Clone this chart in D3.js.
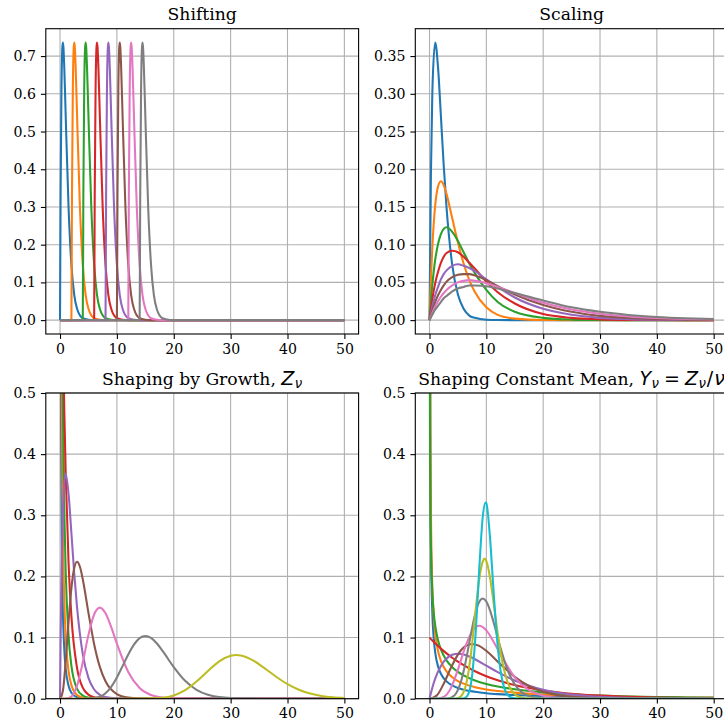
<!DOCTYPE html>
<html>
<head>
<meta charset="utf-8">
<script src="https://cdn.jsdelivr.net/npm/d3@7"></script>
<style>
  body { margin: 0; background: #fff; }
  svg { display: block; }
</style>
</head>
<body>
<div id="chart"></div>
<script>
// tick labels
const xTicks = [0, 10, 20, 30, 40, 50];
const shiftYTicks = [0, 0.1, 0.2, 0.3, 0.4, 0.5, 0.6, 0.7];
const scaleYTicks = [0, 0.05, 0.1, 0.15, 0.2, 0.25, 0.3, 0.35];
const shapeYTicks = [0, 0.1, 0.2, 0.3, 0.4, 0.5];

const tab10 = ["#1f77b4", "#ff7f0e", "#2ca02c", "#d62728", "#9467bd",
               "#8c564b", "#e377c2", "#7f7f7f", "#bcbd22", "#17becf"];

// Shifting: one curve per shift, [x, density]
const shifting = [
  [[0,0],[0.1,0.327],[0.25,0.607],[0.4,0.719],[0.5,0.736],[0.6,0.723],[0.75,0.669],[1,0.541],[1.5,0.299],[2,0.147],[2.5,0.067],[3,0.030],[4,0.005],[5,0.001],[6,0],[50,0]],
  [[0,0],[2,0],[2.1,0.327],[2.25,0.607],[2.4,0.719],[2.5,0.736],[2.6,0.723],[2.75,0.669],[3,0.541],[3.5,0.299],[4,0.147],[4.5,0.067],[5,0.030],[6,0.005],[7,0.001],[8,0],[50,0]],
  [[0,0],[4,0],[4.1,0.327],[4.25,0.607],[4.4,0.719],[4.5,0.736],[4.6,0.723],[4.75,0.669],[5,0.541],[5.5,0.299],[6,0.147],[6.5,0.067],[7,0.030],[8,0.005],[9,0.001],[10,0],[50,0]],
  [[0,0],[6,0],[6.1,0.327],[6.25,0.607],[6.4,0.719],[6.5,0.736],[6.6,0.723],[6.75,0.669],[7,0.541],[7.5,0.299],[8,0.147],[8.5,0.067],[9,0.030],[10,0.005],[11,0.001],[12,0],[50,0]],
  [[0,0],[8,0],[8.1,0.327],[8.25,0.607],[8.4,0.719],[8.5,0.736],[8.6,0.723],[8.75,0.669],[9,0.541],[9.5,0.299],[10,0.147],[10.5,0.067],[11,0.030],[12,0.005],[13,0.001],[14,0],[50,0]],
  [[0,0],[10,0],[10.1,0.327],[10.25,0.607],[10.4,0.719],[10.5,0.736],[10.6,0.723],[10.75,0.669],[11,0.541],[11.5,0.299],[12,0.147],[12.5,0.067],[13,0.030],[14,0.005],[15,0.001],[16,0],[50,0]],
  [[0,0],[12,0],[12.1,0.327],[12.25,0.607],[12.4,0.719],[12.5,0.736],[12.6,0.723],[12.75,0.669],[13,0.541],[13.5,0.299],[14,0.147],[14.5,0.067],[15,0.030],[16,0.005],[17,0.001],[18,0],[50,0]],
  [[0,0],[14,0],[14.1,0.327],[14.25,0.607],[14.4,0.719],[14.5,0.736],[14.6,0.723],[14.75,0.669],[15,0.541],[15.5,0.299],[16,0.147],[16.5,0.067],[17,0.030],[18,0.005],[19,0.001],[20,0],[50,0]]
];

// Scaling: shared x grid, one value row per scale
const scalingX = [0, 0.25, 0.5, 1, 1.5, 2, 2.5, 3, 4, 5, 6, 7, 8, 10, 12, 15, 20, 25, 30, 35, 40, 45, 50];
const scalingY = [
  [0, 0.195, 0.303, 0.368, 0.335, 0.271, 0.205, 0.149, 0.073, 0.034, 0.015, 0.006, 0.003, 0.0005, 0.0001, 0, 0, 0, 0, 0, 0, 0, 0],
  [0, 0.055, 0.097, 0.152, 0.177, 0.184, 0.179, 0.167, 0.135, 0.103, 0.075, 0.053, 0.037, 0.017, 0.007, 0.002, 0.0002, 0, 0, 0, 0, 0, 0],
  [0, 0.026, 0.047, 0.080, 0.101, 0.114, 0.121, 0.123, 0.117, 0.105, 0.090, 0.075, 0.062, 0.040, 0.024, 0.011, 0.003, 0.0007, 0.0001, 0, 0, 0, 0],
  [0, 0.015, 0.028, 0.049, 0.064, 0.076, 0.084, 0.089, 0.092, 0.090, 0.084, 0.076, 0.068, 0.051, 0.037, 0.022, 0.008, 0.003, 0.001, 0.0003, 0.0001, 0, 0],
  [0, 0.0095, 0.018, 0.033, 0.044, 0.054, 0.061, 0.066, 0.072, 0.074, 0.072, 0.069, 0.065, 0.054, 0.044, 0.030, 0.015, 0.007, 0.003, 0.0013, 0.0005, 0.0002, 0.0001],
  [0, 0.0067, 0.013, 0.024, 0.033, 0.040, 0.046, 0.051, 0.057, 0.060, 0.061, 0.061, 0.059, 0.053, 0.045, 0.034, 0.020, 0.011, 0.0056, 0.0028, 0.0014, 0.0007, 0.0003],
  [0, 0.0049, 0.0095, 0.018, 0.025, 0.031, 0.036, 0.040, 0.046, 0.050, 0.052, 0.053, 0.052, 0.049, 0.044, 0.036, 0.023, 0.014, 0.0084, 0.0048, 0.0027, 0.0015, 0.0008],
  [0, 0.0038, 0.0073, 0.014, 0.019, 0.024, 0.029, 0.032, 0.038, 0.042, 0.044, 0.046, 0.046, 0.045, 0.042, 0.036, 0.026, 0.017, 0.011, 0.0069, 0.0042, 0.0025, 0.0015]
];

// Shaping by growth
const growth = [
  [[0.01,7.39],[0.05,1.736],[0.1,0.901],[0.2,0.444],[0.3,0.282],[0.5,0.148],[0.75,0.081],[1,0.049],[1.5,0.021],[2,0.0098],[3,0.0025],[4,0.0007],[5,0.0002],[7,0],[50,0]],
  [[0.01,8.63],[0.05,2.481],[0.1,1.403],[0.2,0.755],[0.3,0.504],[0.5,0.281],[0.75,0.162],[1,0.1015],[1.5,0.0454],[2,0.0222],[3,0.006],[4,0.0018],[5,0.0006],[6,0.0002],[8,0],[50,0]],
  [[0.01,5.585],[0.05,2.40],[0.1,1.614],[0.2,1.033],[0.3,0.763],[0.5,0.484],[0.75,0.308],[1,0.208],[1.5,0.103],[2,0.054],[3,0.0162],[4,0.0052],[5,0.0017],[6,0.0006],[7,0.0002],[9,0],[50,0]],
  [[0,1],[0.05,0.951],[0.1,0.905],[0.2,0.819],[0.3,0.741],[0.5,0.607],[0.75,0.472],[1,0.368],[1.5,0.223],[2,0.135],[3,0.050],[4,0.018],[5,0.0067],[6,0.0025],[7,0.0009],[8,0.0003],[10,0],[50,0]],
  [[0,0],[0.1,0.0905],[0.2,0.164],[0.3,0.222],[0.5,0.303],[0.75,0.354],[1,0.368],[1.5,0.335],[2,0.271],[2.5,0.205],[3,0.149],[4,0.073],[5,0.034],[6,0.015],[7,0.0064],[8,0.0027],[10,0.0005],[12,0],[50,0]],
  [[0,0],[0.5,0.0126],[1,0.0613],[1.5,0.1255],[2,0.1804],[2.5,0.2138],[3,0.224],[3.5,0.2158],[4,0.1954],[5,0.1404],[6,0.0892],[7,0.0521],[8,0.0286],[10,0.0076],[12,0.0018],[14,0.0004],[16,0.0001],[18,0],[50,0]],
  [[0,0],[1,0.0001],[2,0.0034],[3,0.0216],[4,0.0595],[5,0.1044],[6,0.1377],[7,0.149],[8,0.1396],[9,0.1171],[10,0.0901],[12,0.0437],[14,0.0174],[16,0.006],[18,0.0019],[20,0.0005],[24,0],[50,0]],
  [[0,0],[3,0],[5,0.0002],[7,0.0033],[8,0.009],[9,0.0194],[10,0.0347],[11,0.0533],[12,0.0724],[13,0.0885],[14,0.099],[15,0.1025],[16,0.0993],[17,0.0906],[18,0.0786],[20,0.0517],[22,0.0292],[24,0.0146],[26,0.0065],[28,0.0027],[30,0.001],[34,0.0001],[38,0],[50,0]],
  [[0,0],[12,0],[15,0.0001],[18,0.0015],[20,0.0054],[22,0.014],[24,0.0281],[26,0.0454],[28,0.0612],[30,0.0702],[31,0.0716],[32,0.0703],[34,0.0623],[36,0.0497],[38,0.0359],[40,0.0238],[42,0.0147],[44,0.0084],[46,0.0045],[48,0.0023],[50,0.0011]]
];

// Shaping with constant mean
const constMean = [
  [[0.01,4.31],[0.05,1.055],[0.1,0.575],[0.2,0.314],[0.3,0.220],[0.5,0.140],[0.75,0.098],[1,0.0758],[1.5,0.0528],[2,0.0408],[3,0.0283],[4,0.0217],[5,0.0176],[6,0.0148],[8,0.0113],[10,0.009],[12,0.0075],[15,0.006],[20,0.0044],[25,0.0034],[30,0.0027],[35,0.0022],[40,0.0018],[45,0.0016],[50,0.0013]],
  [[0.01,3.47],[0.05,1.036],[0.1,0.615],[0.2,0.365],[0.3,0.2685],[0.5,0.182],[0.75,0.134],[1,0.107],[1.5,0.078],[2,0.062],[3,0.0446],[4,0.0351],[5,0.0289],[6,0.0246],[8,0.0189],[10,0.0152],[12,0.0126],[15,0.0099],[20,0.007],[25,0.0053],[30,0.004],[35,0.0032],[40,0.0025],[45,0.0021],[50,0.0017]],
  [[0.01,1.262],[0.05,0.563],[0.1,0.397],[0.2,0.279],[0.3,0.227],[0.5,0.174],[0.75,0.140],[1,0.12],[1.5,0.0956],[2,0.0807],[3,0.0627],[4,0.0516],[5,0.0439],[6,0.0381],[8,0.0299],[10,0.0242],[12,0.02],[15,0.0154],[20,0.0104],[25,0.0072],[30,0.0051],[35,0.0037],[40,0.0027],[45,0.002],[50,0.0015]],
  [[0,0.1],[1,0.0905],[2,0.0819],[3,0.0741],[4,0.067],[5,0.0607],[6,0.0549],[8,0.0449],[10,0.0368],[12,0.0301],[15,0.0223],[20,0.0135],[25,0.0082],[30,0.005],[35,0.003],[40,0.0018],[45,0.0011],[50,0.0007]],
  [[0,0],[0.5,0.018],[1,0.0327],[2,0.0536],[3,0.0659],[4,0.0719],[5,0.0736],[6,0.0723],[7,0.069],[8,0.0646],[10,0.0541],[12,0.0435],[15,0.0299],[20,0.0147],[25,0.0067],[30,0.003],[35,0.0013],[40,0.0005],[45,0.0002],[50,0.0001]],
  [[0,0],[1.25,0.005],[2.5,0.0245],[3.75,0.0502],[5,0.0722],[6.25,0.0855],[7.5,0.0896],[8.75,0.0863],[10,0.0782],[12.5,0.0562],[15,0.0357],[17.5,0.0208],[20,0.0114],[25,0.003],[30,0.0007],[35,0.0002],[40,0],[50,0]],
  [[0,0],[1.25,0.0001],[2.5,0.0028],[3.75,0.0173],[5,0.0476],[6.25,0.0835],[7.5,0.1102],[8.75,0.1192],[10,0.1117],[11.25,0.0937],[12.5,0.0721],[15,0.035],[17.5,0.0139],[20,0.0048],[22.5,0.0015],[25,0.0004],[30,0],[50,0]],
  [[0,0],[2,0],[3.125,0.0003],[4.375,0.0053],[5,0.0144],[5.625,0.031],[6.25,0.0555],[6.875,0.0853],[7.5,0.1158],[8.125,0.1416],[8.75,0.1584],[9.375,0.164],[10,0.1589],[10.625,0.145],[11.25,0.1258],[12.5,0.0827],[13.75,0.0467],[15,0.0234],[16.25,0.0104],[17.5,0.0043],[18.75,0.0016],[21.25,0.0002],[24,0],[50,0]],
  [[0,0],[3.5,0],[4.6875,0.0003],[5.625,0.0049],[6.25,0.0172],[6.875,0.0448],[7.5,0.0899],[8.125,0.1453],[8.75,0.1958],[9.375,0.2246],[9.6875,0.2291],[10,0.225],[10.625,0.1994],[11.25,0.159],[11.875,0.1149],[12.5,0.0762],[13.125,0.047],[13.75,0.0269],[14.375,0.0144],[15,0.0074],[15.625,0.0035],[16.875,0.0007],[19,0],[50,0]],
  [[0,0],[4.5,0],[5.625,0.0001],[6.25,0.0012],[6.875,0.0087],[7.5,0.0382],[8.125,0.108],[8.75,0.212],[9.375,0.298],[9.84,0.321],[10,0.3196],[10.625,0.266],[11.25,0.179],[11.875,0.0985],[12.5,0.0457],[13.125,0.0181],[13.75,0.0062],[14.375,0.0019],[15.625,0.0001],[17,0],[50,0]]
];

const W = 724, H = 724;
const serif = "'DejaVu Serif', serif";
const mathFont = "'DejaVu Sans', sans-serif";
const titleSize = 17.2;
const mathSize = 19;
const subSize = 13.3;

const svg = d3.select("#chart").append("svg")
    .attr("width", W)
    .attr("height", H);

function drawPanel(p) {
    const x = d3.scaleLinear().domain([-2.5, 52.5]).range([p.left, p.right]);
    const y = d3.scaleLinear().domain(p.yLimits).range([p.bottom, p.top]);

    svg.append("clipPath").attr("id", "clip-" + p.id)
        .append("rect")
        .attr("x", p.left).attr("y", p.top)
        .attr("width", p.right - p.left).attr("height", p.bottom - p.top);

    const g = svg.append("g");

    // grid below the curves
    g.append("g").selectAll("line").data(xTicks).join("line")
        .attr("x1", d => x(d)).attr("x2", d => x(d))
        .attr("y1", p.top).attr("y2", p.bottom)
        .attr("stroke", "#b0b0b0").attr("stroke-width", 1.1);
    g.append("g").selectAll("line").data(p.yTicks).join("line")
        .attr("x1", p.left).attr("x2", p.right)
        .attr("y1", d => y(d)).attr("y2", d => y(d))
        .attr("stroke", "#b0b0b0").attr("stroke-width", 1.1);

    const line = d3.line()
        .x(d => x(d[0]))
        .y(d => y(d[1]))
        .curve(d3.curveMonotoneX);

    g.append("g").attr("clip-path", "url(#clip-" + p.id + ")")
        .selectAll("path").data(p.series).join("path")
        .attr("d", line)
        .attr("fill", "none")
        .attr("stroke", (d, i) => tab10[i % 10])
        .attr("stroke-width", 2.08)
        .attr("stroke-linejoin", "round");

    // spines
    g.append("rect")
        .attr("x", p.left).attr("y", p.top)
        .attr("width", p.right - p.left).attr("height", p.bottom - p.top)
        .attr("fill", "none").attr("stroke", "#000").attr("stroke-width", 1.1);

    const xAxis = g.append("g")
        .attr("transform", "translate(0," + p.bottom + ")")
        .call(d3.axisBottom(x).tickValues(xTicks).tickFormat(d3.format("d"))
            .tickSize(4.9).tickPadding(4.9));
    const yAxis = g.append("g")
        .attr("transform", "translate(" + p.left + ",0)")
        .call(d3.axisLeft(y).tickValues(p.yTicks).tickFormat(d3.format(p.fmt))
            .tickSize(4.9).tickPadding(4.9));

    for (const ax of [xAxis, yAxis]) {
        ax.attr("font-family", null).attr("font-size", null);
        ax.select(".domain").remove();
        ax.selectAll(".tick line").attr("stroke", "#000").attr("stroke-width", 1.1);
        ax.selectAll("text")
            .attr("fill", "#000")
            .attr("font-family", serif)
            .attr("font-size", 14.1);
    }

    const t = g.append("text")
        .attr("x", (p.left + p.right) / 2)
        .attr("y", p.top - 8.3)
        .attr("text-anchor", "middle")
        .attr("font-family", serif)
        .attr("font-size", titleSize)
        .attr("fill", "#000");
    p.title(t);
}

// mathtext-like pieces: italic sans letters, lowered small subscripts
function math(t, str, opts = {}) {
    return t.append("tspan")
        .attr("font-family", mathFont)
        .attr("font-style", opts.upright ? "normal" : "italic")
        .attr("font-size", opts.sub ? subSize : mathSize)
        .attr("dx", opts.dx || 0)
        .attr("dy", opts.dy || 0)
        .text(str);
}

const L = { left: 45.8, right: 358.6 };
const R = { left: 415.3, right: 727.9 };
const T = { top: 28.7, bottom: 334 };
const B = { top: 393, bottom: 698.7 };

drawPanel({
    id: "shift", ...L, ...T,
    yLimits: [-0.0368, 0.7726], yTicks: shiftYTicks, fmt: ".1f",
    series: shifting,
    title: t => t.text("Shifting")
});

drawPanel({
    id: "scale", ...R, ...T,
    yLimits: [-0.0184, 0.3863], yTicks: scaleYTicks, fmt: ".2f",
    series: scalingY.map(row => row.map((v, i) => [scalingX[i], v])),
    title: t => t.text("Scaling")
});

drawPanel({
    id: "growth", ...L, ...B,
    yLimits: [0, 0.5], yTicks: shapeYTicks, fmt: ".1f",
    series: growth,
    title: t => {
        t.append("tspan").text("Shaping by Growth, ");
        math(t, "Z");
        math(t, "ν", { sub: true, dy: 3, dx: 0.5 });
    }
});

drawPanel({
    id: "mean", ...R, ...B,
    yLimits: [0, 0.5], yTicks: shapeYTicks, fmt: ".1f",
    series: constMean,
    title: t => {
        t.append("tspan").text("Shaping Constant Mean, ");
        math(t, "Y");
        math(t, "ν", { sub: true, dy: 3, dx: 0.5 });
        math(t, "=", { upright: true, dy: -3, dx: 5 });
        math(t, "Z", { dx: 5 });
        math(t, "ν", { sub: true, dy: 3, dx: 0.5 });
        math(t, "/", { upright: true, dy: -3, dx: 1 });
        math(t, "ν", { dx: 1 });
    }
});
</script>
</body>
</html>
